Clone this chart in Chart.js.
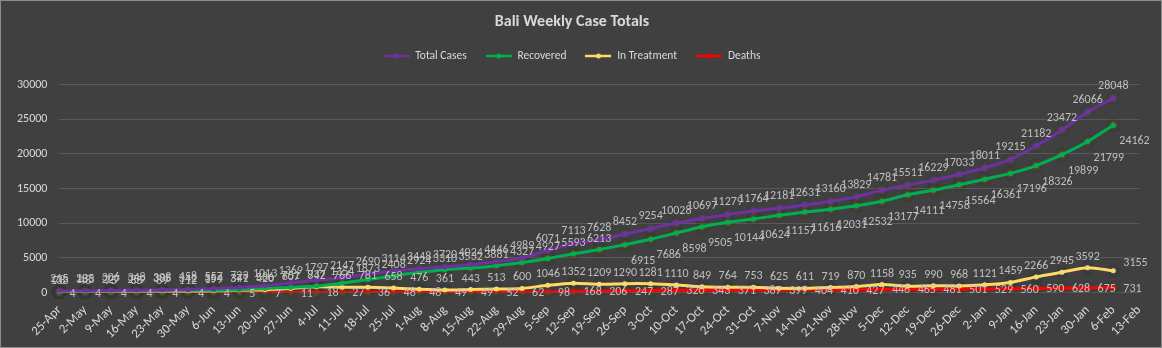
<!DOCTYPE html>
<html>
<head>
<meta charset="utf-8">
<title>Bali Weekly Case Totals</title>
<script src="https://cdn.jsdelivr.net/npm/chart.js@4/dist/chart.umd.min.js"></script>
<style>
  html, body { margin: 0; padding: 0; background: #404040; }
  .wrap { width: 1162px; height: 348px; box-sizing: border-box; border: 1px solid #8c8c8c; background: #404040; }
</style>
</head>
<body>
<div class="wrap"><canvas id="chart"></canvas></div>
<script>
const weeks = ['25-Apr', '2-May', '9-May', '16-May', '23-May', '30-May', '6-Jun', '13-Jun', '20-Jun', '27-Jun',
  '4-Jul', '11-Jul', '18-Jul', '25-Jul', '1-Aug', '8-Aug', '15-Aug', '22-Aug', '29-Aug', '5-Sep',
  '12-Sep', '19-Sep', '26-Sep', '3-Oct', '10-Oct', '17-Oct', '24-Oct', '31-Oct', '7-Nov', '14-Nov',
  '21-Nov', '28-Nov', '5-Dec', '12-Dec', '19-Dec', '26-Dec', '2-Jan', '9-Jan', '16-Jan', '23-Jan',
  '30-Jan', '6-Feb', '13-Feb'];

const totalCases = [215, 235, 306, 348, 398, 458, 557, 723, 1013, 1369,
  1797, 2147, 2690, 3114, 3448, 3720, 4024, 4446, 4989, 6071,
  7113, 7628, 8452, 9254, 10028, 10697, 11279, 11764, 12181, 12631,
  13160, 13829, 14781, 15511, 16229, 17033, 18011, 19215, 21182, 23472,
  26066, 28048, null];

const recovered = [133, 183, 227, 259, 305, 342, 354, 371, 586, 751,
  937, 1354, 1873, 2408, 2924, 3310, 3532, 3881, 4327, 4927,
  5593, 6213, 6915, 7686, 8598, 9505, 10144, 10624, 11157, 11616,
  12031, 12532, 13177, 14111, 14758, 15564, 16361, 17196, 18326, 19899,
  21799, 24162, null];

const inTreatment = [78, 48, 75, 85, 89, 112, 199, 347, 420, 607,
  842, 766, 781, 658, 476, 361, 443, 513, 600, 1046,
  1352, 1209, 1290, 1281, 1110, 849, 764, 753, 625, 611,
  719, 870, 1158, 935, 990, 968, 1121, 1459, 2266, 2945,
  3592, 3155, null];

const deaths = [4, 4, 4, 4, 4, 4, 4, 5, 7, 11,
  18, 27, 36, 48, 48, 49, 49, 52, 62, 98,
  168, 206, 247, 287, 320, 343, 371, 387, 399, 404,
  410, 427, 446, 465, 481, 501, 529, 560, 590, 628,
  675, 731, null];

const yTicks = [0, 5000, 10000, 15000, 20000, 25000, 30000];

const colors = ['#7030a0', '#00b050', '#ffd966', '#ff0000'];
const glows = ['rgba(150,150,160,0.45)', 'rgba(190,140,20,0.55)', 'rgba(60,110,150,0.55)', 'rgba(110,150,60,0.45)'];

Chart.defaults.font.family = 'Carlito, Lato, sans-serif';
Chart.defaults.color = '#d9d9d9';

function legendIcon(color) {
  const c = document.createElement('canvas');
  c.width = 26; c.height = 8;
  const g = c.getContext('2d');
  g.strokeStyle = color;
  g.lineWidth = 2.5;
  g.beginPath(); g.moveTo(0, 4); g.lineTo(26, 4); g.stroke();
  g.fillStyle = color;
  g.beginPath(); g.arc(13, 4, 2.5, 0, Math.PI * 2); g.fill();
  return c;
}
const icons = colors.map(legendIcon);

// leave some room under the legend
const legendGap = {
  id: 'legendGap',
  beforeInit(chart) {
    const fit = chart.legend.fit;
    chart.legend.fit = function () {
      fit.call(this);
      this.height += 13;
    };
  }
};

// soft halo round each marker, like the glow effect of the original
const markerGlow = {
  id: 'markerGlow',
  beforeDatasetsDraw(chart) {
    const ctx = chart.ctx;
    chart.data.datasets.forEach((ds, i) => {
      chart.getDatasetMeta(i).data.forEach((pt, j) => {
        if (ds.data[j] == null) return;
        const g = ctx.createRadialGradient(pt.x, pt.y, 0, pt.x, pt.y, 8);
        g.addColorStop(0, glows[i]);
        g.addColorStop(1, 'rgba(0,0,0,0)');
        ctx.fillStyle = g;
        ctx.beginPath(); ctx.arc(pt.x, pt.y, 8, 0, Math.PI * 2); ctx.fill();
      });
    });
  }
};

// value labels next to the points
const valueLabels = {
  id: 'valueLabels',
  afterDatasetsDraw(chart) {
    const ctx = chart.ctx;
    ctx.save();
    ctx.font = '12px Carlito, Lato, sans-serif';
    ctx.fillStyle = '#bfbfbf';
    ctx.textBaseline = 'middle';
    chart.data.datasets.forEach((ds, i) => {
      const meta = chart.getDatasetMeta(i);
      meta.data.forEach((pt, j) => {
        const v = ds.data[j];
        if (v == null) return;
        let dx = 0, dy = -12, align = 'center';
        if (i === 1 && j >= 22) { dx = 6; dy = 16; align = 'left'; }
        else if (i === 1) { dy = -11; }
        else if (i === 2 && j === 41) { dx = 10; dy = -8; align = 'left'; }
        else if (i === 2) { dy = -11; }
        else if (i === 3) { dx = 10; dy = 1; align = 'left'; }
        ctx.textAlign = align;
        ctx.fillText(String(v), pt.x + dx, pt.y + dy);
      });
    });
    ctx.restore();
  }
};

const series = [
  { label: 'Total Cases', data: totalCases },
  { label: 'Recovered', data: recovered },
  { label: 'In Treatment', data: inTreatment },
  { label: 'Deaths', data: deaths }
];

new Chart(document.getElementById('chart'), {
  type: 'line',
  data: {
    labels: weeks,
    datasets: series.map((s, i) => ({
      label: s.label,
      data: s.data,
      borderColor: colors[i],
      backgroundColor: colors[i],
      borderWidth: 3,
      pointRadius: 2.5,
      pointHoverRadius: 2.5,
      pointBorderWidth: 0,
      tension: 0.25
    }))
  },
  options: {
    responsive: true,
    maintainAspectRatio: false,
    animation: false,
    layout: { padding: { left: 4, right: 22, top: 4, bottom: 3 } },
    plugins: {
      title: {
        display: true,
        text: 'Bali Weekly Case Totals',
        color: '#d9d9d9',
        font: { size: 16, weight: 'bold' },
        padding: { top: 7, bottom: 0 }
      },
      legend: {
        position: 'top',
        labels: {
          color: '#d9d9d9',
          font: { size: 11.5 },
          usePointStyle: true,
          pointStyleWidth: 26,
          boxHeight: 8,
          padding: 19,
          generateLabels(chart) {
            const items = Chart.defaults.plugins.legend.labels.generateLabels(chart);
            items.forEach((it, i) => { it.pointStyle = icons[i]; });
            return items;
          }
        }
      },
      tooltip: { enabled: false }
    },
    scales: {
      x: {
        offset: false,
        grid: { display: false },
        border: { color: '#595959' },
        ticks: { color: '#d9d9d9', font: { size: 13 }, minRotation: 45, maxRotation: 45, autoSkip: false, padding: 2 }
      },
      y: {
        min: 0,
        max: 30000,
        afterBuildTicks(axis) { axis.ticks = yTicks.map(v => ({ value: v })); },
        grid: { color: '#595959', drawTicks: false },
        border: { display: false },
        ticks: { color: '#d9d9d9', font: { size: 12 }, padding: 12, callback: v => String(v) }
      }
    }
  },
  plugins: [legendGap, markerGlow, valueLabels]
});
</script>
</body>
</html>
